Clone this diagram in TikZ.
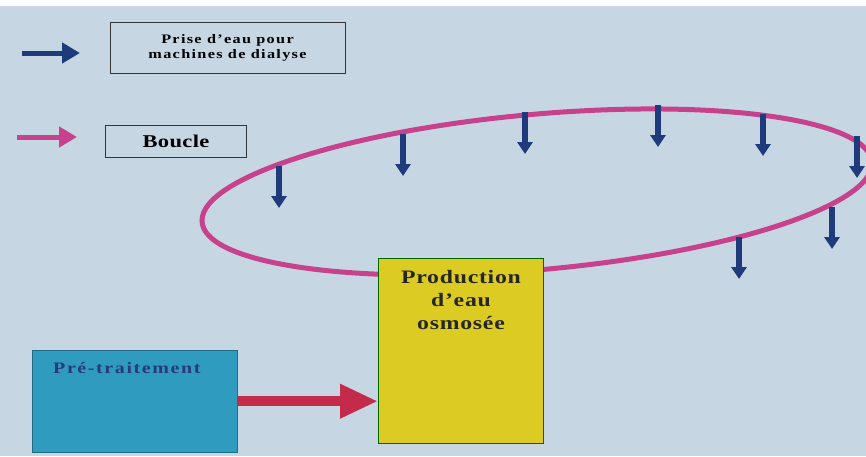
\documentclass[tikz,border=0pt]{standalone}
\usepackage{fontspec}
\setmainfont{Liberation Serif}[FakeStretch=1.25]
\usetikzlibrary{arrows.meta,positioning,calc}
\definecolor{slide}{HTML}{C6D7E3}
\definecolor{tapblue}{HTML}{1F3B7C}
\definecolor{loopcol}{HTML}{C8418C}
\definecolor{feed}{HTML}{C42A4A}
\definecolor{osmo}{HTML}{DCCB22}
\definecolor{pretr}{HTML}{2E9BBF}
\definecolor{pretxt}{HTML}{2A3A7E}
\tikzset{
  legendbox/.style={draw=black!80,line width=1pt,inner sep=0pt,align=center},
  tap/.style={tapblue,line width=5.5pt,-{Triangle[length=12pt,width=15pt]}},
  spaced/.style n args={3}{inner sep=0pt,font=\bfseries\fontsize{#1}{#2}\selectfont\addfontfeature{LetterSpace=#3}},
}

\begin{document}
\begin{tikzpicture}[x=1pt,y=-1pt]
       \useasboundingbox (0,0) rectangle (866,456);
       \fill[slide] (0,0) rectangle (866,456);
       \fill[white] (0,0) rectangle (866,6);
       % legend
       \node[legendbox,spaced={13}{15}{10},minimum width=235pt,minimum height=51pt] (prise) at (227.5,47.5)
          {Prise d'eau pour\\machines de dialyse};
       \node[legendbox,spaced={18}{18}{2},minimum width=141pt,minimum height=32pt] (boucle) at (176,141)
          {Boucle};
       \coordinate (LA) at (22,53);
       \coordinate (LB) at (80,53);
       \coordinate (LC) at (17,137);
       \coordinate (LD) at (77,137);
       \draw[tapblue,line width=5pt,-{Triangle[length=18pt,width=20pt]}] (LA) -- (LB);
       \draw[loopcol,line width=5pt,-{Triangle[length=18pt,width=20pt]}] (LC) -- (LD);
       % loop
       \draw[loopcol,line width=5pt,shift={(537,192)},yslant=0.085] (0,0) ellipse [x radius=335,y radius=78];
       \foreach \px/\py in {279/166,403/134,525/112,658/105,763/114,857/136,832/207,739/237}
          \draw[tap] (\px,\py) -- ++(0,42);
       % boxes
       \node[draw=black!60!green,line width=1pt,fill=osmo,minimum width=165pt,minimum height=185pt,
             anchor=north west] (prod) at (378,258) {};
       \node[anchor=north,align=center,spaced={19}{23}{4},text=black!85] (prodtxt)
          at ($(prod.north)+(0,12)$) {Production\\d'eau\\osmosée};
       \node[fill=pretr,draw=pretr!70!black,minimum width=205pt,minimum height=102pt,
             anchor=north west] (pre) at (32,350) {};
       \node[anchor=base west,spaced={16}{16}{10},text=pretxt] (pretext)
          at ($(pre.north west)+(21,23)$) {Pré-traitement};
       \draw[feed,line width=10pt,-{Triangle[length=38pt,width=32pt]}] (pre.east) -- (pre.east -| prod.west);
\end{tikzpicture}
\end{document}
